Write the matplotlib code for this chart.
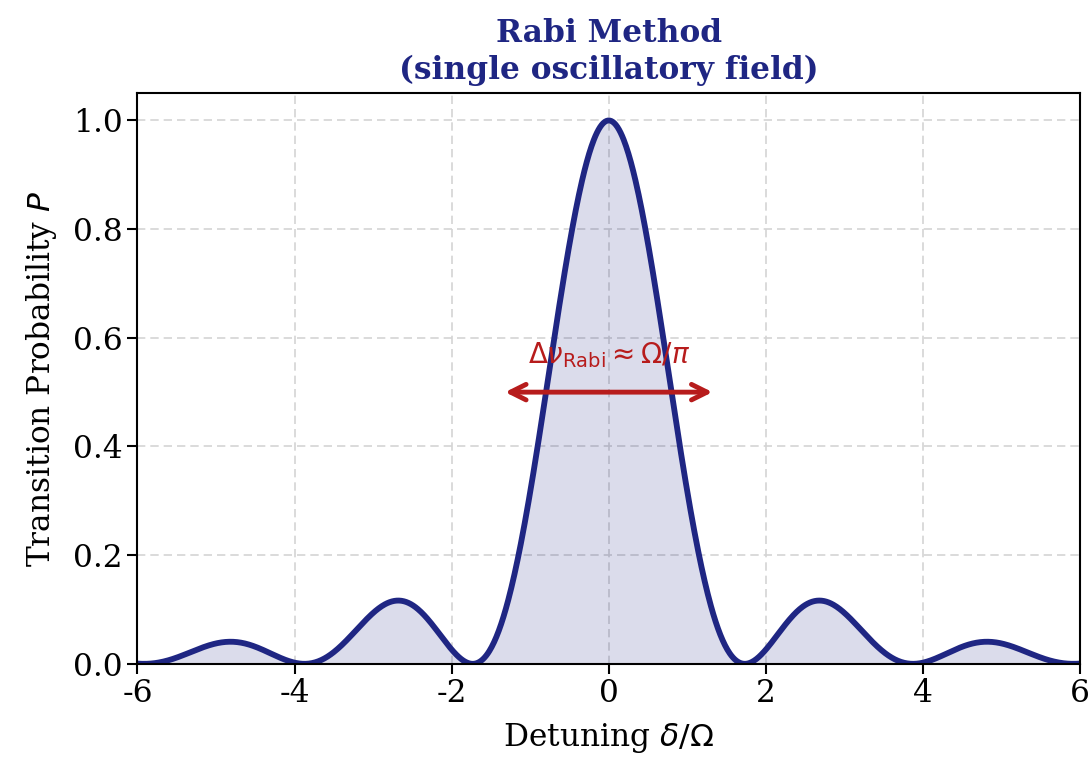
import numpy as np
import matplotlib
matplotlib.use("Agg")
import matplotlib.pyplot as plt

# ── Rabi line shape parameters (pi pulse, Omega = 1) ─────────────────────────
omega       = 1.0
pulse_area  = np.pi           # Omega * t
x_range     = (-6.0, 6.0)
n_points    = 1201
arrow_span  = (-1.32, 1.32)
arrow_level = 0.5
label_text  = r"$\Delta\nu_{\mathrm{Rabi}} \approx \Omega/\pi$"

delta = np.linspace(x_range[0], x_range[1], n_points)
w_eff = np.sqrt(omega**2 + delta**2)
prob  = (omega**2 / w_eff**2) * np.sin(w_eff * pulse_area / (2 * omega))**2

NAVY = "#1f2683"
RED  = "#b71c1c"

plt.rcParams["font.family"] = ["DejaVu Serif"]
plt.rcParams["mathtext.fontset"] = "dejavusans"
plt.rcParams["axes.unicode_minus"] = False

fig, ax = plt.subplots(figsize=(10.91, 7.71), dpi=100)
fig.subplots_adjust(left=0.126, right=0.990, top=0.879, bottom=0.139)

ax.fill_between(delta, prob, 0, color=NAVY, alpha=0.16, linewidth=0)
ax.plot(delta, prob, color=NAVY, linewidth=4.2)

ax.annotate("", xy=(arrow_span[1], arrow_level), xytext=(arrow_span[0], arrow_level),
            arrowprops=dict(arrowstyle="<->", color=RED, lw=3.5,
                            mutation_scale=28, shrinkA=0, shrinkB=0))
ax.text(0, 0.568, label_text, color=RED, fontsize=20, ha="center", va="center",
        family="DejaVu Sans")

ax.set_xlim(*x_range)
ax.set_ylim(0, 1.05)
ax.set_xticks(np.arange(-6, 7, 2))
ax.set_yticks(np.arange(0, 1.01, 0.2))
ax.set_yticklabels([f"{v:.1f}" for v in np.arange(0, 1.01, 0.2)])
ax.tick_params(labelsize=22.5, width=1.5, length=7)
ax.grid(True, linestyle=(0, (5, 3)), color="#d4d4d4", linewidth=1.2)
ax.set_axisbelow(True)
for s in ax.spines.values():
    s.set_linewidth(1.5)

ax.set_xlabel(r"Detuning $\delta/\Omega$", fontsize=22.5, labelpad=8)
ax.set_ylabel(r"Transition Probability $P$", fontsize=22.5, labelpad=10)
ax.set_title("Rabi Method\n(single oscillatory field)", fontsize=22.5,
             fontweight="bold", color=NAVY, pad=10, linespacing=1.25)

fig.savefig("out.png", dpi=100)
